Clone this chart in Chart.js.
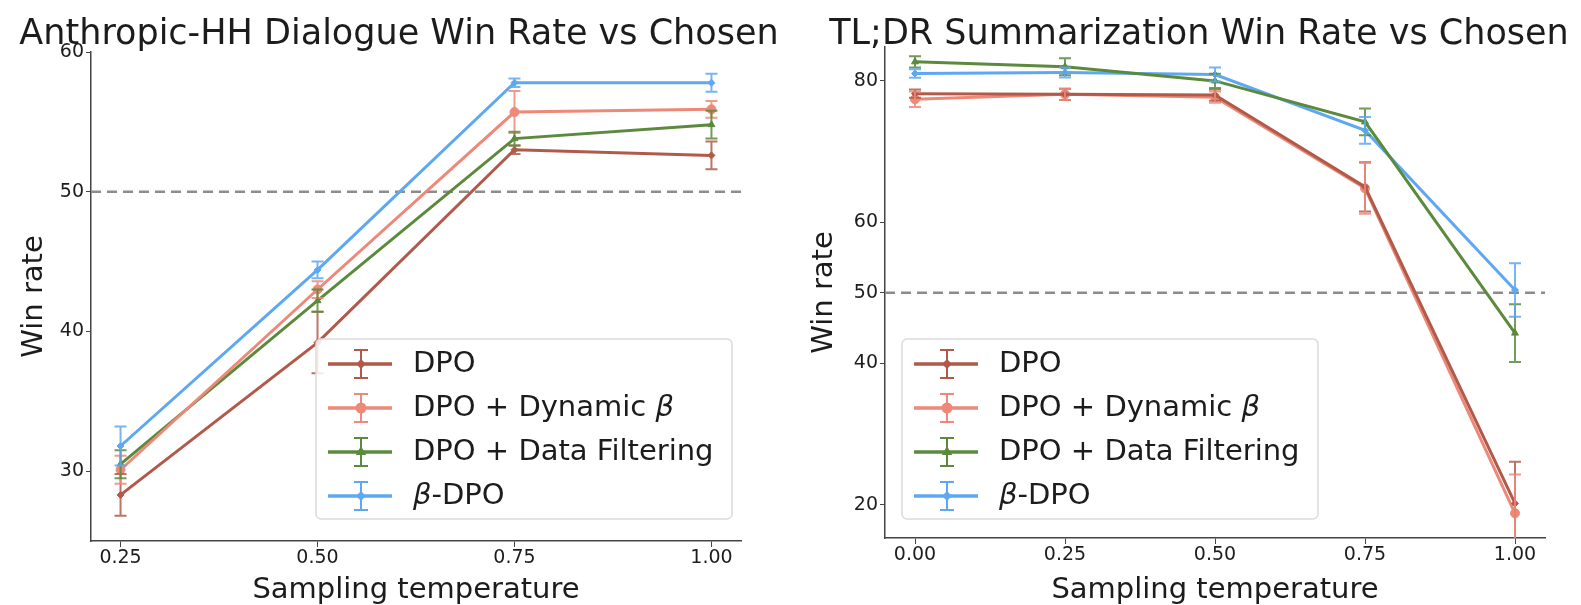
<!DOCTYPE html>
<html>
<head>
<meta charset="utf-8">
<script src="https://cdn.jsdelivr.net/npm/chart.js@4.4.1/dist/chart.umd.min.js"></script>
<style>
  html, body { margin: 0; padding: 0; background: #fff; }
  #wrap { position: relative; width: 1581px; height: 605px; overflow: hidden; }
  .box { position: absolute; top: 0; height: 605px; }
</style>
</head>
<body>
<div id="wrap">
  <div class="box" style="left:0;width:790px"><canvas id="chartHH"></canvas></div>
  <div class="box" style="left:790px;width:791px"><canvas id="chartTL"></canvas></div>
</div>
<script>
// series names (same for both panels)
const seriesNames = ['DPO', 'DPO + Dynamic β', 'DPO + Data Filtering', 'β-DPO'];

// Anthropic-HH panel
const hhTemps = [0.25, 0.50, 0.75, 1.00];
const hhDpo = [28.3, 39.2, 53.0, 52.6];
const hhDpoErr = [1.5, 2.2, 0.3, 1.0];
const hhDynamic = [30.1, 43.0, 55.7, 55.9];
const hhDynamicErr = [1.0, 0.6, 1.5, 0.6];
const hhFilter = [30.5, 42.2, 53.8, 54.8];
const hhFilterErr = [1.0, 0.8, 0.5, 1.0];
const hhBeta = [31.8, 44.4, 57.8, 57.8];
const hhBetaErr = [1.4, 0.6, 0.3, 0.65];
const hhXTicks = [0.25, 0.50, 0.75, 1.00];
const hhYTicks = [30, 40, 50, 60];

// TL;DR panel
const tlTemps = [0.00, 0.25, 0.50, 0.75, 1.00];
const tlDpo = [78.2, 78.1, 78.0, 65.0, 20.2];
const tlDpoErr = [0.6, 0.8, 0.8, 3.5, 5.9];
const tlDynamic = [77.4, 78.1, 77.7, 64.8, 18.8];
const tlDynamicErr = [1.1, 0.8, 0.8, 3.6, 5.5];
const tlFilter = [82.7, 82.0, 80.0, 74.2, 44.3];
const tlFilterErr = [0.8, 1.2, 1.0, 1.9, 4.1];
const tlBeta = [81.05, 81.2, 80.9, 73.0, 50.4];
const tlBetaErr = [0.6, 0.7, 1.0, 1.9, 3.8];
const tlXTicks = [0.00, 0.25, 0.50, 0.75, 1.00];
const tlYTicks = [20, 40, 50, 60, 80];

const refLine = 50;

const colors = ['#b25a4a', '#ee8878', '#5b8a3c', '#5ea8f2'];
const markers = ['rectRot', 'circle', 'triangle', 'rectRot'];
const markerSize = [3.5, 4.5, 4, 3.5];
const FONT = "'DejaVu Sans', sans-serif";
const TEXT = '#1c1c1c';

function pts(xs, ys) {
  return xs.map((x, i) => ({ x: x, y: ys[i] }));
}

// dashed reference line at 50
const refLinePlugin = {
  id: 'refLine',
  beforeDatasetsDraw(chart) {
    const { ctx, chartArea } = chart;
    const y = chart.scales.y.getPixelForValue(refLine);
    ctx.save();
    ctx.strokeStyle = '#8c8c8c';
    ctx.lineWidth = 2.5;
    ctx.setLineDash([10, 6]);
    ctx.beginPath();
    ctx.moveTo(chartArea.left, y);
    ctx.lineTo(chartArea.right, y);
    ctx.stroke();
    ctx.restore();
  }
};

// vertical error bars with caps
const errorBarPlugin = {
  id: 'errorBars',
  afterDatasetsDraw(chart, args, opts) {
    const { ctx, chartArea } = chart;
    const xs = chart.scales.x, ys = chart.scales.y;
    ctx.save();
    ctx.beginPath();
    ctx.rect(chartArea.left, chartArea.top - 4, chartArea.right - chartArea.left, chartArea.bottom - chartArea.top + 4);
    ctx.clip();
    chart.data.datasets.forEach((ds, d) => {
      const errs = opts.errors[d];
      ctx.strokeStyle = ds.borderColor;
      ctx.globalAlpha = 0.85;
      ctx.lineWidth = 2;
      ds.data.forEach((p, i) => {
        const x = xs.getPixelForValue(p.x);
        const y1 = ys.getPixelForValue(p.y + errs[i]);
        const y2 = ys.getPixelForValue(p.y - errs[i]);
        ctx.beginPath();
        ctx.moveTo(x, y1); ctx.lineTo(x, y2);
        ctx.moveTo(x - 6, y1); ctx.lineTo(x + 6, y1);
        ctx.moveTo(x - 6, y2); ctx.lineTo(x + 6, y2);
        ctx.stroke();
      });
    });
    ctx.restore();
  }
};

// title centred like the matplotlib one (it is wider than the axes)
const titlePlugin = {
  id: 'panelTitle',
  afterDraw(chart, args, opts) {
    const { ctx } = chart;
    ctx.save();
    ctx.font = '35px ' + FONT;
    ctx.fillStyle = TEXT;
    ctx.textAlign = 'center';
    ctx.textBaseline = 'middle';
    ctx.fillText(opts.text, opts.x, opts.y);
    ctx.restore();
  }
};

// matplotlib-like legend box with errorbar glyphs
const legendPlugin = {
  id: 'ebLegend',
  afterDraw(chart, args, opts) {
    const { ctx } = chart;
    const bx = opts.x, by = opts.y, bw = opts.w, bh = opts.h;
    ctx.save();
    ctx.fillStyle = 'rgba(255,255,255,0.85)';
    ctx.strokeStyle = '#dcdcdc';
    ctx.lineWidth = 1.5;
    ctx.beginPath();
    ctx.roundRect(bx, by, bw, bh, 5);
    ctx.fill();
    ctx.stroke();
    chart.data.datasets.forEach((ds, i) => {
      const cy = by + 25 + i * 44;
      const cx = bx + 45;
      ctx.strokeStyle = ds.borderColor;
      ctx.fillStyle = ds.borderColor;
      ctx.lineWidth = 3.5;
      ctx.beginPath();
      ctx.moveTo(bx + 12, cy); ctx.lineTo(bx + 76, cy);
      ctx.stroke();
      ctx.lineWidth = 2;
      ctx.beginPath();
      ctx.moveTo(cx, cy - 14); ctx.lineTo(cx, cy + 14);
      ctx.moveTo(cx - 7, cy - 14); ctx.lineTo(cx + 7, cy - 14);
      ctx.moveTo(cx - 7, cy + 14); ctx.lineTo(cx + 7, cy + 14);
      ctx.stroke();
      Chart.helpers.drawPoint(ctx, {
        pointStyle: ds.pointStyle, radius: ds.pointRadius, borderWidth: 1
      }, cx, cy);
      ctx.fillStyle = TEXT;
      ctx.textBaseline = 'middle';
      let tx = bx + 97;
      const parts = ds.label.split('β');
      parts.forEach((part, k) => {
        ctx.font = '29px ' + FONT;
        ctx.fillText(part, tx, cy);
        tx += ctx.measureText(part).width;
        if (k < parts.length - 1) {
          ctx.font = 'italic 29px ' + FONT;
          ctx.fillText('β', tx, cy);
          tx += ctx.measureText('β').width;
        }
      });
    });
    ctx.restore();
  }
};

function makeChart(id, cfg) {
  const datasets = cfg.series.map((ys, i) => ({
    label: seriesNames[i],
    data: pts(cfg.temps, ys),
    borderColor: colors[i],
    backgroundColor: colors[i],
    borderWidth: 3,
    pointStyle: markers[i],
    pointRadius: markerSize[i],
    pointBorderWidth: 1,
    tension: 0
  }));
  return new Chart(document.getElementById(id), {
    type: 'line',
    data: { datasets: datasets },
    plugins: [refLinePlugin, errorBarPlugin, titlePlugin, legendPlugin],
    options: {
      responsive: true,
      maintainAspectRatio: false,
      animation: false,
      layout: { padding: { left: 0, right: cfg.padRight, top: cfg.padTop, bottom: 0 } },
      plugins: {
        legend: { display: false },
        tooltip: { enabled: false },
        title: { display: false },
        panelTitle: { text: cfg.title, x: cfg.titleX, y: 35 },
        errorBars: { errors: cfg.errors },
        ebLegend: cfg.legend
      },
      scales: {
        x: {
          type: 'linear',
          min: cfg.xMin, max: cfg.xMax,
          afterBuildTicks: s => { s.ticks = cfg.xTicks.map(v => ({ value: v })); },
          afterFit: s => { s.height = cfg.xHeight; },
          ticks: {
            color: TEXT, padding: 0, maxRotation: 0,
            font: { family: FONT, size: 19 },
            callback: v => v.toFixed(2)
          },
          grid: { drawOnChartArea: false, drawTicks: true, tickLength: 6, color: '#444' },
          border: { display: true, color: '#444', width: 1.5 },
          title: {
            display: true, text: 'Sampling temperature', color: TEXT,
            font: { family: FONT, size: 29, lineHeight: 1.0 },
            padding: { top: 0, bottom: 0 }
          }
        },
        y: {
          min: cfg.yMin, max: cfg.yMax,
          afterBuildTicks: s => { s.ticks = cfg.yTicks.map(v => ({ value: v })); },
          afterFit: s => { s.width = cfg.yWidth; },
          ticks: { color: TEXT, padding: 2, font: { family: FONT, size: 19 } },
          grid: { drawOnChartArea: false, drawTicks: true, tickLength: 5, color: '#444' },
          border: { display: true, color: '#444', width: 1.5 },
          title: {
            display: true, text: 'Win rate', color: TEXT,
            font: { family: FONT, size: 29, lineHeight: 1.0 },
            padding: { top: 20, bottom: 0 }
          }
        }
      }
    }
  });
}

makeChart('chartHH', {
  title: 'Anthropic-HH Dialogue Win Rate vs Chosen', titleX: 399,
  temps: hhTemps,
  series: [hhDpo, hhDynamic, hhFilter, hhBeta],
  errors: [hhDpoErr, hhDynamicErr, hhFilterErr, hhBetaErr],
  xTicks: hhXTicks, yTicks: hhYTicks,
  xMin: 0.2125, xMax: 1.0375, yMin: 25, yMax: 60,
  yWidth: 91, xHeight: 64, padRight: 49, padTop: 52,
  legend: { x: 316, y: 339, w: 416, h: 180 }
});

makeChart('chartTL', {
  title: 'TL;DR Summarization Win Rate vs Chosen', titleX: 409,
  temps: tlTemps,
  series: [tlDpo, tlDynamic, tlFilter, tlBeta],
  errors: [tlDpoErr, tlDynamicErr, tlFilterErr, tlBetaErr],
  xTicks: tlXTicks, yTicks: tlYTicks,
  xMin: -0.05, xMax: 1.05, yMin: 15.3, yMax: 84.8,
  yWidth: 95, xHeight: 67, padRight: 36, padTop: 47,
  legend: { x: 112, y: 339, w: 416, h: 180 }
});
</script>
</body>
</html>
